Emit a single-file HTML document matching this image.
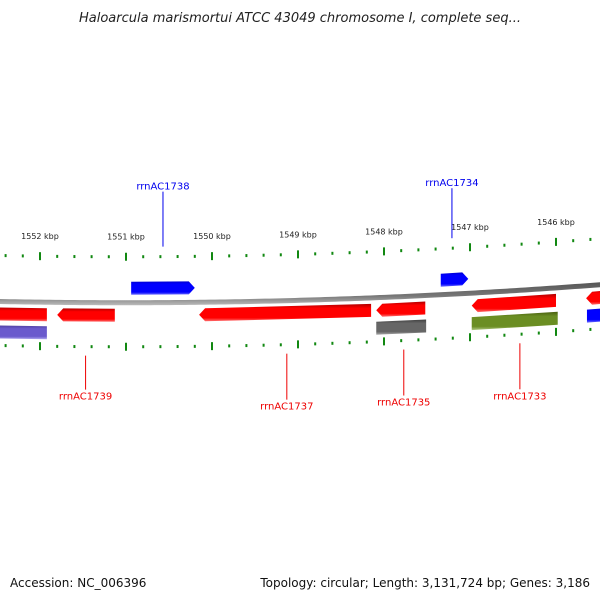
<!DOCTYPE html>
<html><head><meta charset="utf-8"><style>
html,body{margin:0;padding:0;background:#fff;}
svg{display:block;font-family:"DejaVu Sans","Liberation Sans",sans-serif;}
</style></head><body>
<svg id="map" width="600" height="600" viewBox="0 0 600 600" xmlns="http://www.w3.org/2000/svg">
<defs>
<linearGradient id="gRed" x1="0" y1="0" x2="0" y2="1"><stop offset="0" stop-color="#b00000"/><stop offset="0.25" stop-color="#ff0000"/><stop offset="0.8" stop-color="#ff0000"/><stop offset="1" stop-color="#ff7070"/></linearGradient>
<linearGradient id="gBlue" x1="0" y1="0" x2="0" y2="1"><stop offset="0" stop-color="#0000cc"/><stop offset="0.2" stop-color="#0000ff"/><stop offset="0.8" stop-color="#0000ff"/><stop offset="1" stop-color="#7070ff"/></linearGradient>
<linearGradient id="gPurple" x1="0" y1="0" x2="0" y2="1"><stop offset="0" stop-color="#5040a0"/><stop offset="0.25" stop-color="#6a5acd"/><stop offset="0.8" stop-color="#6a5acd"/><stop offset="1" stop-color="#b0a8f0"/></linearGradient>
<linearGradient id="gGrey" x1="0" y1="0" x2="0" y2="1"><stop offset="0" stop-color="#404040"/><stop offset="0.25" stop-color="#666"/><stop offset="0.8" stop-color="#666"/><stop offset="1" stop-color="#aaa"/></linearGradient>
<linearGradient id="gOlive" x1="0" y1="0" x2="0" y2="1"><stop offset="0" stop-color="#4a6010"/><stop offset="0.25" stop-color="#6b8e23"/><stop offset="0.8" stop-color="#6b8e23"/><stop offset="1" stop-color="#b0c880"/></linearGradient>
<linearGradient id="gBack" x1="0" y1="0" x2="0" y2="1"><stop offset="0" stop-color="#555"/><stop offset="0.6" stop-color="#777"/><stop offset="1" stop-color="#bbb"/></linearGradient>
</defs>
<text x="300" y="22" text-anchor="middle" font-size="13" font-style="italic" fill="#222">Haloarcula marismortui ATCC 43049 chromosome I, complete seq...</text>
<text x="10" y="587" font-size="12" fill="#111">Accession: NC_006396</text>
<text x="590" y="587" text-anchor="end" font-size="12" fill="#111">Topology: circular; Length: 3,131,724 bp; Genes: 3,186</text>
<g id="layer"></g>
</svg>
<script>
const kbpLabels = [1552, 1551, 1550, 1549, 1548, 1547, 1546];
const tickStart = 1552.4, tickEnd = 1545.0, tickStep = 0.2;
const geneNames = ["g-left-red","rrnAC1739","rrnAC1738","rrnAC1737","rrnAC1735","rrnAC1734","rrnAC1733","g-right-red"];
const geneStart = [1552.6, 1551.80, 1550.94, 1550.15, 1548.09, 1547.34, 1546.98, 1545.65];
const geneEnd   = [1551.92, 1551.13, 1550.20, 1548.15, 1547.52, 1547.02, 1546.00, 1545.30];
const geneStrand= [-1, -1, 1, -1, -1, 1, -1, -1];
const geneColor = ["gRed","gRed","gBlue","gRed","gRed","gBlue","gRed","gRed"];
const featStart = [1552.6, 1548.09, 1546.98, 1545.64];
const featEnd   = [1551.92, 1547.51, 1545.98, 1545.30];
const featColor = ["gPurple","gGrey","gOlive","gBlue"];
const labelNames = ["rrnAC1738","rrnAC1734","rrnAC1739","rrnAC1737","rrnAC1735","rrnAC1733"];
const labelKbp   = [1550.57, 1547.21, 1551.47, 1549.13, 1547.77, 1546.42];
const labelSide  = [-1, -1, 1, 1, 1, 1];
const labelLen   = [55, 50, 34, 46, 46, 46];

const NS="http://www.w3.org/2000/svg";
const layer=document.getElementById('layer');
function xOf(k){return 40+(1552-k)*86;}
function yB(x){return 301.5+0.02*x-0.00008*x*x;}
function mk(t,a){const e=document.createElementNS(NS,t);for(const k in a)e.setAttribute(k,a[k]);layer.appendChild(e);return e;}

let d="";for(let x=-5;x<=605;x+=5){d+=(x==-5?"M":"L")+x+","+(yB(x)-2.5);}
for(let x=605;x>=-5;x-=5){d+="L"+x+","+(yB(x)+2.5);}
const bb=mk('path',{d:d+"Z",fill:"url(#gBack)"});



let i=0;
for(let k=tickStart;k>=tickEnd-1e-6;k-=tickStep,i++){
  const x=xOf(k);const major=Math.abs(k-Math.round(k))<1e-6;
  const h=major?8:3;
  [-46,44].forEach(off=>{
    const y=yB(x)+off;
    const t=mk('rect',{x:x-1,y:y-h/2,width:2,height:h,fill:"#118811"});
    
    
  });
}
kbpLabels.forEach(k=>{
  const x=xOf(k);
  const t=mk('text',{x:x,y:yB(x)-63,'text-anchor':'middle','font-size':8,fill:"#222"});
  t.textContent=k+" kbp";
  
  
});

function feature(k1,k2,y1,y2,fill,strand,name){
  const xa=xOf(k1),xb=xOf(k2);
  const ya=yB(xa),yb=yB(xb);
  const h=y2-y1,tip=6;
  let pts;
  if(strand>0){
    pts=[[xa,ya+y1],[xb-tip,yb+y1],[xb,yb+y1+h/2],[xb-tip,yb+y2],[xa,ya+y2]];
  }else if(strand<0){
    pts=[[xa+tip,ya+y1],[xb,yb+y1],[xb,yb+y2],[xa+tip,ya+y2],[xa,ya+y1+h/2]];
  }else{
    pts=[[xa,ya+y1],[xb,yb+y1],[xb,yb+y2],[xa,ya+y2]];
  }
  const p=mk('polygon',{points:pts.map(q=>q.join(',')).join(' '),fill:"url(#"+fill+")"});
  
  
}
for(let j=0;j<geneStart.length;j++){
  const top=geneStrand[j]>0;
  const strand=(j==0)?0:geneStrand[j];
  feature(geneStart[j],geneEnd[j],top?-21:6,top?-8:19,geneColor[j],strand,'gene-'+geneNames[j].toLowerCase());
}
for(let j=0;j<featStart.length;j++){
  feature(featStart[j],featEnd[j],24,37,featColor[j],0,'feature-'+featColor[j].slice(1).toLowerCase());
}
for(let j=0;j<labelNames.length;j++){
  const x=xOf(labelKbp[j]);const base=yB(x);
  const col=labelSide[j]<0?"#0000ee":"#ee0000";
  let y0,y1,ty;
  if(labelSide[j]<0){y0=base-56;y1=y0-labelLen[j];ty=y1-2;}
  else{y0=base+53;y1=y0+labelLen[j];ty=y1+10;}
  const l=mk('line',{x1:x,y1:y0,x2:x,y2:y1,stroke:col,'stroke-width':1});
  
  
  const t=mk('text',{x:x,y:ty,'text-anchor':'middle','font-size':10,fill:col});
  t.textContent=labelNames[j];
  
  
}
</script>
</body></html>
